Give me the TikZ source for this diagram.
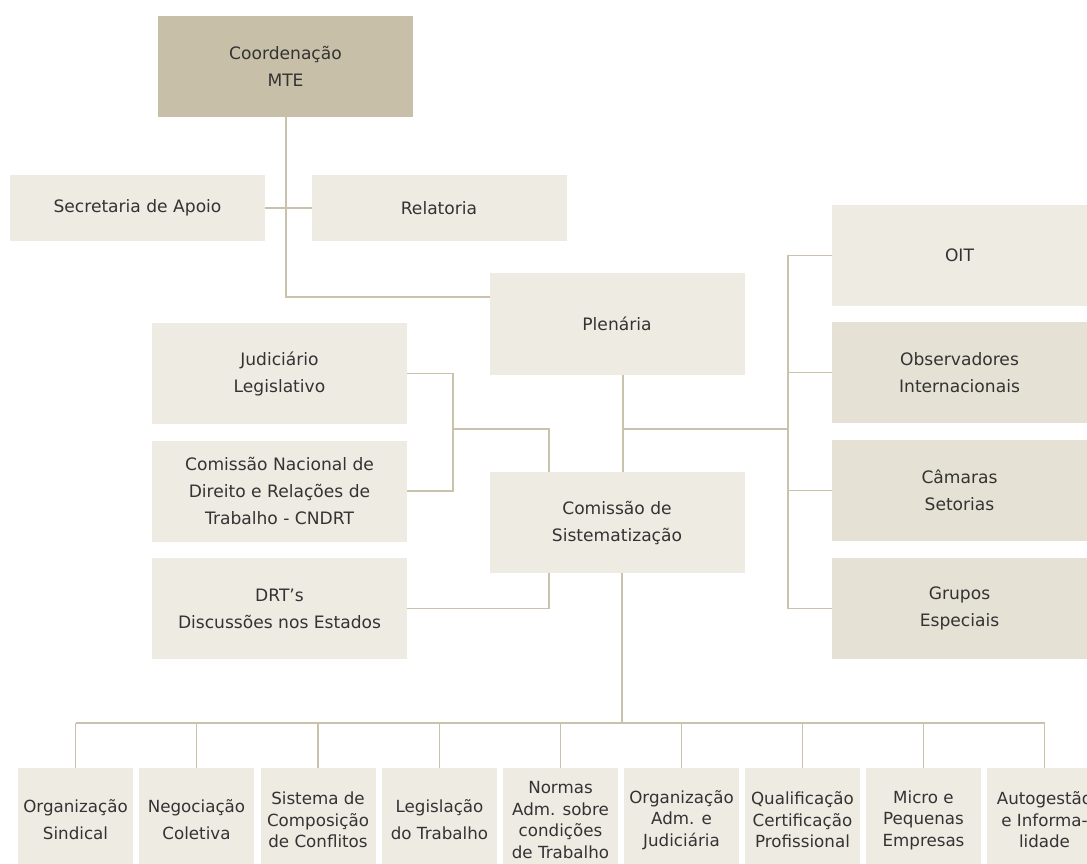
\documentclass[tikz,border=0pt]{standalone}
\usepackage{fontspec}
\setmainfont{DejaVu Sans}
\definecolor{boxlight}{HTML}{EEEBE3}
\definecolor{boxmid}{HTML}{E6E1D5}
\definecolor{boxtop}{HTML}{C8BFA9}
\definecolor{linecol}{HTML}{CBC2AC}
\definecolor{txt}{HTML}{333333}
\begin{document}
\begin{tikzpicture}[x=1pt,y=-1pt,
  base/.style={inner sep=0pt,outer sep=0pt,align=center,text=txt,
    font=\fontsize{17.1}{27}\selectfont},
  bigbox/.style={base,fill=boxlight,minimum width=255pt,minimum height=101pt},
  midbox/.style={bigbox,fill=boxmid},
  flatbox/.style={base,fill=boxlight,minimum width=255pt,minimum height=66pt},
  smallbox/.style={base,fill=boxlight,minimum width=115pt,minimum height=104pt,
    font=\fontsize{16.7}{27}\selectfont},
  tight/.style={font=\fontsize{16.7}{21.5}\selectfont},
  conn/.style={draw=linecol,line width=1.8pt}]
\useasboundingbox (0,0) rectangle (1087,863);
\fill[white] (0,0) rectangle (1087,863);

% top
\node[bigbox,fill=boxtop] (coord) at (285.5,66) {Coordenação\\MTE};
\node[flatbox] (sec) at (137.5,208) {Secretaria de Apoio};
\node[flatbox] (rel) at (439,208) {Relatoria};
\node[bigbox,minimum height=102pt] (plen) at (617,324) {Plenária};

% left
\node[bigbox] (jud) at (279.5,373.5) {Judiciário\\Legislativo};
\node[bigbox] (cnd) at (279.5,491) {Comissão Nacional de\\Direito e Relações de\\Trabalho - CNDRT};
\node[bigbox] (drt) at (279.5,608.5) {DRT’s\\Discussões nos Estados};

% center
\node[bigbox] (com) at (617,522.5) {Comissão de\\Sistematização};

% right
\node[bigbox] (oit) at (959.5,255.5) {OIT};
\node[midbox] (obs) at (959.5,372.5) {Observadores\\Internacionais};
\node[midbox] (cam) at (959.5,490.5) {Câmaras\\Setorias};
\node[midbox] (grp) at (959.5,608.5) {Grupos\\Especiais};

% bottom
\node[smallbox] (b1) at (75.5,820) {Organização\\Sindical};
\node[smallbox] (b2) at (196.5,820) {Negociação\\Coletiva};
\node[smallbox,tight] (b3) at (318,820) {Sistema de\\Composição\\de Conflitos};
\node[smallbox] (b4) at (439.5,820) {Legislação\\do Trabalho};
\node[smallbox,tight] (b5) at (560.5,820) {Normas\\Adm. sobre\\condições\\de Trabalho};
\node[smallbox,tight] (b6) at (681.5,820) {Organização\\Adm. e\\Judiciária};
\node[smallbox,tight] (b7) at (802.5,820) {Qualificação\\Certificação\\Profissional};
\node[smallbox,tight] (b8) at (923.5,820) {Micro e\\Pequenas\\Empresas};
\node[smallbox,tight] (b9) at (1044.5,820) {Autogestão\\e Informa-\\lidade};

% helper coordinates
\coordinate (cx) at (286,297);
\coordinate (jx) at (453,429);
\coordinate (ct) at (549,429);
\coordinate (pc) at (623,429);
\coordinate (rx) at (788,429);
\coordinate (bus) at (622,723);

% connectors
\draw[conn] (coord.south -| cx) -- (cx) -- (plen.west |- cx);
\draw[conn] (sec.east) -- (rel.west);
\draw[conn] (pc |- plen.south) -- (pc |- com.north);
\draw[conn] (pc) -- (rx);
\draw[conn] (oit.west) -- (oit.west -| rx) -- (grp.west -| rx) -- (grp.west);
\draw[conn] (obs.west) -- (obs.west -| rx);
\draw[conn] (cam.west) -- (cam.west -| rx);
\draw[conn] (jud.east) -- (jud.east -| jx) -- (cnd.east -| jx) -- (cnd.east);
\draw[conn] (jx) -- (ct) -- (ct |- com.north);
\draw[conn] (ct |- com.south) -- (ct |- drt.east) -- (drt.east);
\draw[conn] (bus |- com.south) -- (bus);
\draw[conn] (b1.north |- bus) -- (b9.north |- bus);
\foreach \n in {b1,b2,b3,b4,b5,b6,b7,b8,b9}
  \draw[conn] (\n.north) -- (\n.north |- bus);
\end{tikzpicture}
\end{document}
